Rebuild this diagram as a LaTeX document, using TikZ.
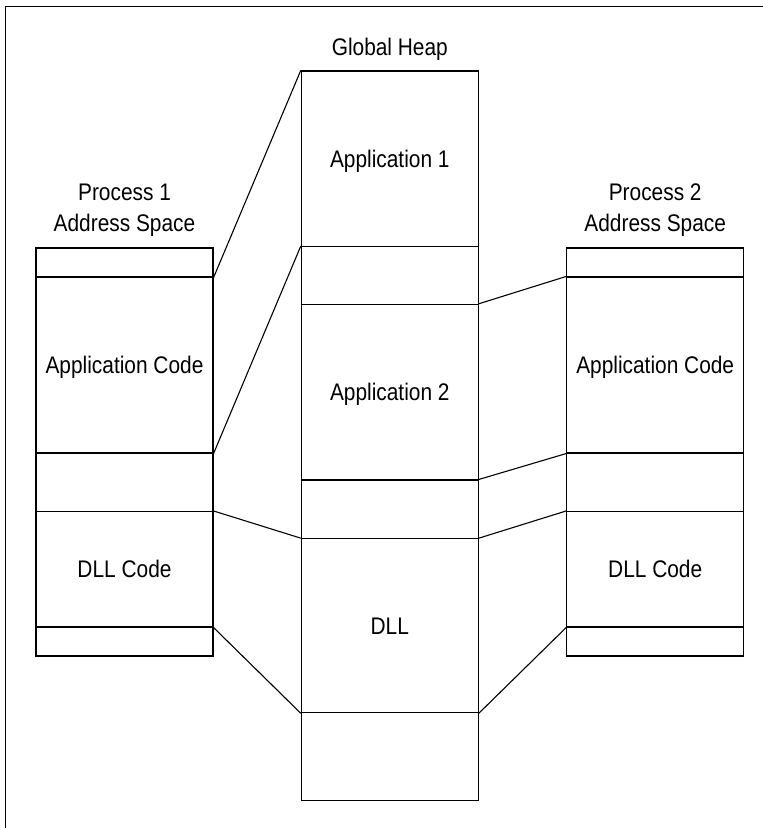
\documentclass[tikz,border=0pt]{standalone}
\usepackage{fontspec}
\setmainfont[FakeStretch=0.87]{Liberation Sans}
\begin{document}
\begin{tikzpicture}[x=1pt,y=-1pt,
  seg/.style={draw=black, line width=1.1pt, inner sep=0pt, minimum width=177pt,
    text height=17pt, text depth=0pt},
  link/.style={draw=black, line width=1.1pt},
  title/.style={anchor=base, align=center, inner sep=0pt},
  every node/.style={font=\fontsize{24}{31.7}\selectfont}]
\useasboundingbox (0,0) rectangle (763,828);
% frame
\draw[line width=1.1pt] (5.5,828) -- (5.5,6.5) -- (763,6.5);
% left column (Process 1)
\node[seg, minimum height=29pt]    (L0) at (124.5,262.5) {};
\node[seg, minimum height=176pt]   (L1) at (124.5,365) {Application Code};
\node[seg, minimum height=58.5pt]  (L2) at (124.5,482.25) {};
\node[seg, minimum height=115.5pt] (L3) at (124.5,569.25) {DLL Code};
\node[seg, minimum height=29pt]    (L4) at (124.5,641.5) {};
% middle column (Global Heap)
\node[seg, minimum height=175.7pt] (M0) at (389.8,158.85) {Application 1};
\node[seg, minimum height=57.6pt]  (M1) at (389.8,275.5) {};
\node[seg, minimum height=175.7pt] (M2) at (389.8,392.15) {Application 2};
\node[seg, minimum height=58.7pt]  (M3) at (389.8,509.35) {};
\node[seg, minimum height=174pt]   (M4) at (389.8,625.7) {DLL};
\node[seg, minimum height=88pt]    (M5) at (389.8,756.7) {};
% right column (Process 2)
\node[seg, minimum height=29pt]    (R0) at (655.2,262.5) {};
\node[seg, minimum height=176pt]   (R1) at (655.2,365) {Application Code};
\node[seg, minimum height=58.5pt]  (R2) at (655.2,482.25) {};
\node[seg, minimum height=115.5pt] (R3) at (655.2,569.25) {DLL Code};
\node[seg, minimum height=29pt]    (R4) at (655.2,641.5) {};
% titles
\node[title] (T1) at (124.5,231.7) {Process 1\\Address Space};
\node[title] (TG) at (389.8,55) {Global Heap};
\node[title] (T2) at (655.2,231.7) {Process 2\\Address Space};
% connectors
\draw[link] (L0.south east) -- (M0.north west);
\draw[link] (L1.south east) -- (M1.north west);
\draw[link] (L3.north east) -- (M4.north west);
\draw[link] (L3.south east) -- (M4.south west);
\draw[link] (R1.north west) -- (M2.north east);
\draw[link] (R1.south west) -- (M3.north east);
\draw[link] (R3.north west) -- (M4.north east);
\draw[link] (R3.south west) -- (M4.south east);
\end{tikzpicture}
\end{document}
